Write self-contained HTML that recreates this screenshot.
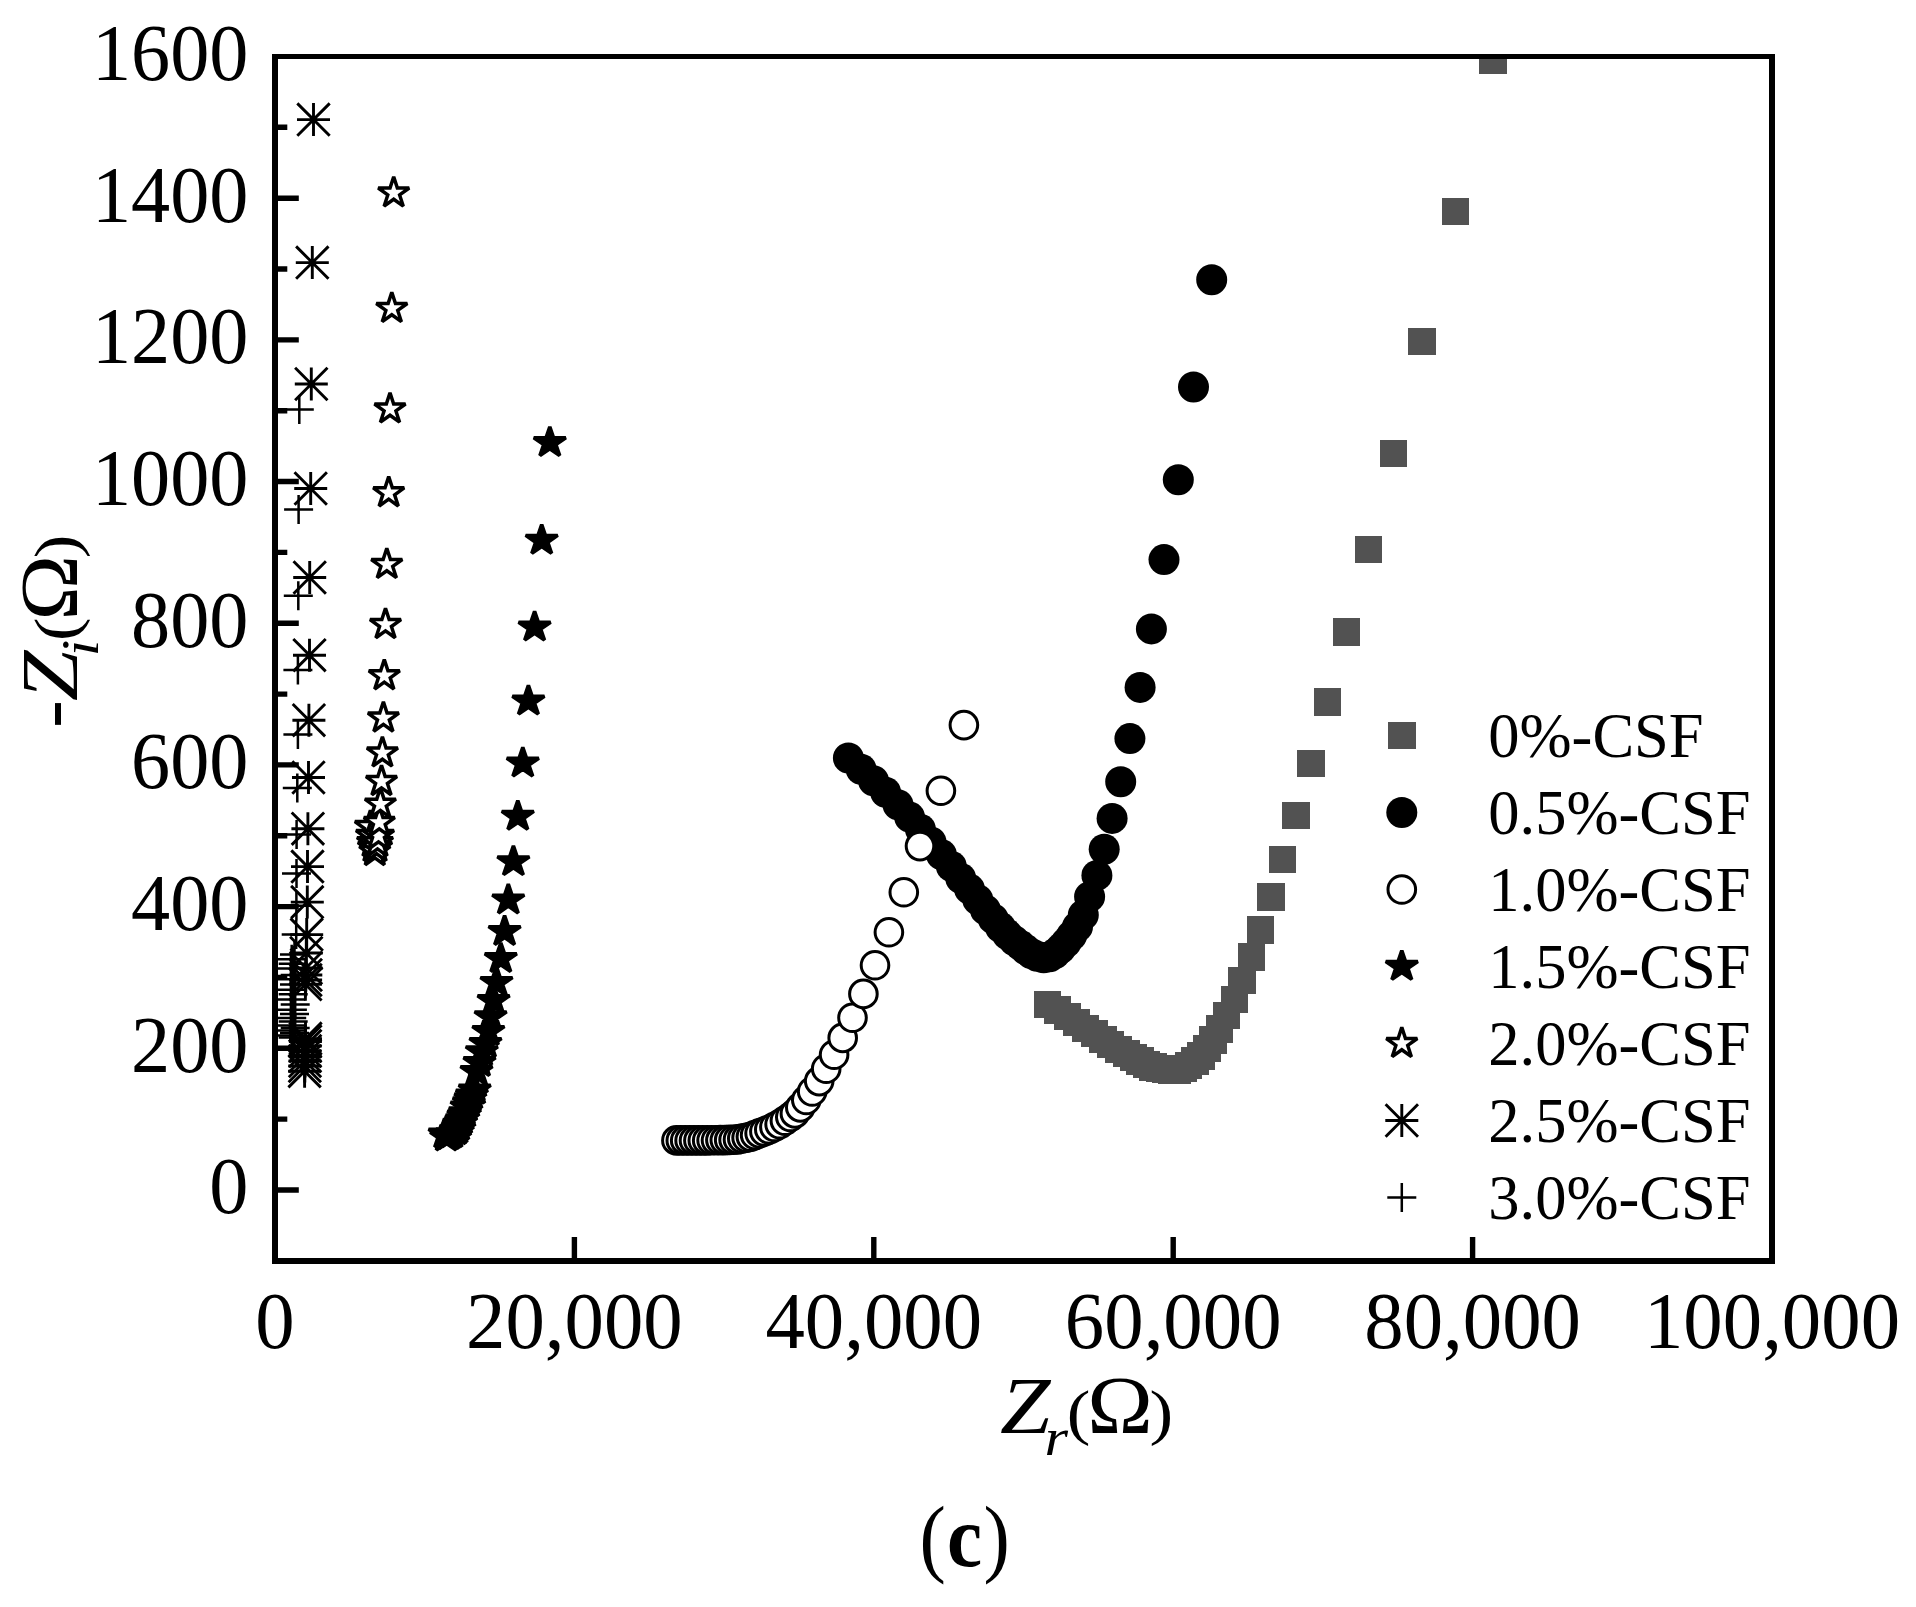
<!DOCTYPE html>
<html lang="en"><head><meta charset="utf-8"><title>Nyquist plot (c)</title>
<style>html,body{margin:0;padding:0;background:#fff}svg{display:block}text{font-family:"Liberation Serif","Times New Roman",serif;fill:#000}.t{font-size:78px}.l{font-size:62.5px}.i{font-style:italic}</style></head><body>
<svg width="1916" height="1607" viewBox="0 0 1916 1607">
<rect width="1916" height="1607" fill="#fff"/>
<defs>
<clipPath id="cp"><rect x="275.0" y="56.5" width="1497.0" height="1204.3"/></clipPath>
<rect id="sq" x="-13.8" y="-13.8" width="27.6" height="27.6" fill="#525252" shape-rendering="crispEdges"/>
<circle id="fc" r="15.5" fill="#000"/>
<circle id="oc" r="13.8" fill="#fff" stroke="#000" stroke-width="3"/>
<path id="fs" d="M0.00 -16.40L3.68 -5.07L15.60 -5.07L5.96 1.94L9.64 13.27L0.00 6.26L-9.64 13.27L-5.96 1.94L-15.60 -5.07L-3.68 -5.07Z" transform="scale(1.025 0.975)" fill="#000" stroke="#000" stroke-width="3.5" stroke-linejoin="miter" stroke-miterlimit="2.5"/>
<path id="os" d="M0.00 -16.30L3.66 -5.04L15.50 -5.04L5.92 1.92L9.58 13.19L0.00 6.23L-9.58 13.19L-5.92 1.92L-15.50 -5.04L-3.66 -5.04Z" fill="#fff" stroke="#000" stroke-width="3.5" stroke-linejoin="miter" stroke-miterlimit="2.5"/>
<path id="as" d="M-16.5 0H16.5M0 -16.5V16.5M-16.2 -16.2L16.2 16.2M-16.2 16.2L16.2 -16.2" fill="none" stroke="#000" stroke-width="2.9"/>
<path id="pl" d="M-14.5 0H14.5M0 -14.5V14.5" fill="none" stroke="#000" stroke-width="2.5"/>
</defs>
<g clip-path="url(#cp)">
<g><use href="#sq" x="1047.3" y="1004.5"/><use href="#sq" x="1057.5" y="1010.3"/><use href="#sq" x="1067.4" y="1016.6"/><use href="#sq" x="1076.5" y="1022.4"/><use href="#sq" x="1085.4" y="1028.3"/><use href="#sq" x="1094.4" y="1033.6"/><use href="#sq" x="1102.9" y="1039.4"/><use href="#sq" x="1110.5" y="1044.4"/><use href="#sq" x="1118.5" y="1049.3"/><use href="#sq" x="1126.3" y="1053.5"/><use href="#sq" x="1133.4" y="1057.3"/><use href="#sq" x="1140.1" y="1061.1"/><use href="#sq" x="1146.3" y="1064.5"/><use href="#sq" x="1153.1" y="1066.8"/><use href="#sq" x="1159.6" y="1068.6"/><use href="#sq" x="1165.8" y="1069.5"/><use href="#sq" x="1171.9" y="1070.2"/><use href="#sq" x="1177.7" y="1069.9"/><use href="#sq" x="1183.5" y="1068.3"/><use href="#sq" x="1188.3" y="1065.7"/><use href="#sq" x="1194.8" y="1061.1"/><use href="#sq" x="1200.8" y="1056.1"/><use href="#sq" x="1207.0" y="1048.5"/><use href="#sq" x="1213.2" y="1040.1"/><use href="#sq" x="1219.5" y="1028.9"/><use href="#sq" x="1226.5" y="1015.4"/><use href="#sq" x="1234.5" y="999.5"/><use href="#sq" x="1242.1" y="980.6"/><use href="#sq" x="1251.4" y="957.2"/><use href="#sq" x="1260.6" y="929.9"/><use href="#sq" x="1271.1" y="897.3"/><use href="#sq" x="1282.5" y="859.5"/><use href="#sq" x="1296.0" y="815.5"/><use href="#sq" x="1311.0" y="763.4"/><use href="#sq" x="1327.5" y="702.2"/><use href="#sq" x="1346.6" y="631.9"/><use href="#sq" x="1368.4" y="549.4"/><use href="#sq" x="1393.5" y="453.4"/><use href="#sq" x="1422.0" y="341.4"/><use href="#sq" x="1455.5" y="211.3"/><use href="#sq" x="1493.0" y="60.1"/></g>
<g><use href="#fc" x="848.4" y="758.0"/><use href="#fc" x="861.1" y="769.2"/><use href="#fc" x="873.5" y="780.8"/><use href="#fc" x="885.6" y="792.2"/><use href="#fc" x="898.0" y="804.7"/><use href="#fc" x="909.6" y="817.1"/><use href="#fc" x="920.4" y="829.3"/><use href="#fc" x="931.0" y="842.0"/><use href="#fc" x="941.3" y="854.5"/><use href="#fc" x="951.3" y="866.3"/><use href="#fc" x="960.7" y="878.3"/><use href="#fc" x="969.5" y="889.1"/><use href="#fc" x="977.8" y="899.7"/><use href="#fc" x="985.5" y="909.9"/><use href="#fc" x="993.3" y="918.9"/><use href="#fc" x="1000.4" y="927.2"/><use href="#fc" x="1007.4" y="934.6"/><use href="#fc" x="1014.2" y="940.6"/><use href="#fc" x="1020.7" y="945.6"/><use href="#fc" x="1025.7" y="949.6"/><use href="#fc" x="1031.2" y="953.5"/><use href="#fc" x="1037.2" y="956.3"/><use href="#fc" x="1043.7" y="957.7"/><use href="#fc" x="1049.6" y="956.7"/><use href="#fc" x="1055.1" y="953.5"/><use href="#fc" x="1060.6" y="948.6"/><use href="#fc" x="1066.1" y="942.6"/><use href="#fc" x="1071.6" y="935.6"/><use href="#fc" x="1077.5" y="926.7"/><use href="#fc" x="1083.3" y="915.0"/><use href="#fc" x="1089.6" y="896.7"/><use href="#fc" x="1096.9" y="875.4"/><use href="#fc" x="1104.2" y="849.3"/><use href="#fc" x="1112.1" y="818.4"/><use href="#fc" x="1120.7" y="781.8"/><use href="#fc" x="1129.9" y="738.6"/><use href="#fc" x="1140.1" y="687.4"/><use href="#fc" x="1151.4" y="628.9"/><use href="#fc" x="1164.0" y="559.6"/><use href="#fc" x="1178.3" y="479.8"/><use href="#fc" x="1193.5" y="387.0"/><use href="#fc" x="1211.7" y="279.7"/></g>
<g><use href="#oc" x="676.4" y="1140.4"/><use href="#oc" x="680.8" y="1140.4"/><use href="#oc" x="685.2" y="1140.4"/><use href="#oc" x="689.6" y="1140.4"/><use href="#oc" x="694.0" y="1140.4"/><use href="#oc" x="698.4" y="1140.4"/><use href="#oc" x="702.8" y="1140.4"/><use href="#oc" x="707.2" y="1140.4"/><use href="#oc" x="711.6" y="1140.3"/><use href="#oc" x="716.0" y="1140.2"/><use href="#oc" x="720.4" y="1140.1"/><use href="#oc" x="724.8" y="1140.1"/><use href="#oc" x="729.2" y="1139.9"/><use href="#oc" x="733.6" y="1139.7"/><use href="#oc" x="738.0" y="1139.4"/><use href="#oc" x="742.3" y="1138.5"/><use href="#oc" x="746.6" y="1137.7"/><use href="#oc" x="750.9" y="1136.7"/><use href="#oc" x="755.1" y="1135.0"/><use href="#oc" x="759.6" y="1133.3"/><use href="#oc" x="764.4" y="1131.5"/><use href="#oc" x="769.3" y="1129.5"/><use href="#oc" x="774.4" y="1127.0"/><use href="#oc" x="779.6" y="1124.3"/><use href="#oc" x="784.9" y="1120.8"/><use href="#oc" x="790.3" y="1117.0"/><use href="#oc" x="794.9" y="1113.4"/><use href="#oc" x="800.3" y="1107.4"/><use href="#oc" x="806.3" y="1100.0"/><use href="#oc" x="812.2" y="1091.5"/><use href="#oc" x="819.2" y="1081.1"/><use href="#oc" x="826.2" y="1068.8"/><use href="#oc" x="834.1" y="1054.8"/><use href="#oc" x="842.7" y="1037.9"/><use href="#oc" x="852.5" y="1017.8"/><use href="#oc" x="863.4" y="993.9"/><use href="#oc" x="875.0" y="965.2"/><use href="#oc" x="888.9" y="932.2"/><use href="#oc" x="903.8" y="892.3"/><use href="#oc" x="920.0" y="846.1"/><use href="#oc" x="940.9" y="790.8"/><use href="#oc" x="963.9" y="725.1"/></g>
<g><use href="#fs" x="444.6" y="1134.2"/><use href="#fs" x="446.2" y="1137.2"/><use href="#fs" x="449.0" y="1135.6"/><use href="#fs" x="452.0" y="1133.9"/><use href="#fs" x="455.5" y="1130.9"/><use href="#fs" x="457.1" y="1129.4"/><use href="#fs" x="458.8" y="1126.4"/><use href="#fs" x="460.7" y="1122.2"/><use href="#fs" x="461.7" y="1119.8"/><use href="#fs" x="463.3" y="1116.1"/><use href="#fs" x="464.9" y="1113.0"/><use href="#fs" x="466.6" y="1107.1"/><use href="#fs" x="468.8" y="1103.0"/><use href="#fs" x="470.4" y="1099.0"/><use href="#fs" x="471.9" y="1095.2"/><use href="#fs" x="474.7" y="1090.2"/><use href="#fs" x="476.5" y="1071.6"/><use href="#fs" x="479.5" y="1062.7"/><use href="#fs" x="481.8" y="1051.8"/><use href="#fs" x="485.5" y="1043.6"/><use href="#fs" x="488.4" y="1031.6"/><use href="#fs" x="490.6" y="1016.8"/><use href="#fs" x="493.6" y="1000.7"/><use href="#fs" x="496.5" y="982.6"/><use href="#fs" x="500.8" y="958.7"/><use href="#fs" x="504.6" y="931.6"/><use href="#fs" x="508.3" y="900.1"/><use href="#fs" x="513.4" y="861.8"/><use href="#fs" x="517.8" y="816.4"/><use href="#fs" x="522.8" y="763.2"/><use href="#fs" x="528.4" y="701.2"/><use href="#fs" x="534.6" y="627.2"/><use href="#fs" x="541.7" y="540.4"/><use href="#fs" x="549.8" y="442.7"/></g>
<g><use href="#os" x="370.4" y="826.6"/><use href="#os" x="371.5" y="835.6"/><use href="#os" x="372.5" y="842.7"/><use href="#os" x="373.4" y="847.5"/><use href="#os" x="374.8" y="851.6"/><use href="#os" x="376.6" y="847.5"/><use href="#os" x="377.5" y="842.7"/><use href="#os" x="378.5" y="835.6"/><use href="#os" x="379.3" y="822.6"/><use href="#os" x="380.4" y="804.2"/><use href="#os" x="381.5" y="781.6"/><use href="#os" x="382.4" y="753.0"/><use href="#os" x="383.4" y="718.1"/><use href="#os" x="384.3" y="675.9"/><use href="#os" x="385.5" y="624.6"/><use href="#os" x="386.8" y="564.5"/><use href="#os" x="388.7" y="492.9"/><use href="#os" x="390.0" y="409.0"/><use href="#os" x="391.8" y="308.5"/><use href="#os" x="393.7" y="193.0"/></g>
<g><use href="#as" x="304.6" y="1071.2"/><use href="#as" x="304.8" y="1066.0"/><use href="#as" x="305.0" y="1061.0"/><use href="#as" x="305.1" y="1056.0"/><use href="#as" x="305.2" y="1051.0"/><use href="#as" x="305.3" y="1046.0"/><use href="#as" x="305.4" y="1041.5"/><use href="#as" x="305.5" y="1038.6"/><use href="#as" x="305.4" y="984.3"/><use href="#as" x="305.6" y="980.0"/><use href="#as" x="305.8" y="975.0"/><use href="#as" x="306.0" y="968.0"/><use href="#as" x="306.3" y="953.0"/><use href="#as" x="306.7" y="934.6"/><use href="#as" x="307.3" y="902.1"/><use href="#as" x="307.5" y="866.6"/><use href="#as" x="307.9" y="828.7"/><use href="#as" x="308.5" y="777.5"/><use href="#as" x="308.9" y="720.2"/><use href="#as" x="309.5" y="655.2"/><use href="#as" x="309.7" y="577.5"/><use href="#as" x="310.7" y="488.5"/><use href="#as" x="311.3" y="384.0"/><use href="#as" x="312.3" y="262.6"/><use href="#as" x="313.5" y="119.6"/></g>
<g><use href="#pl" x="293.2" y="1037.4"/><use href="#pl" x="291.7" y="1035.5"/><use href="#pl" x="294.5" y="1033.0"/><use href="#pl" x="292.4" y="1030.5"/><use href="#pl" x="295.2" y="1028.0"/><use href="#pl" x="290.9" y="1025.5"/><use href="#pl" x="293.2" y="1021.5"/><use href="#pl" x="291.7" y="1018.0"/><use href="#pl" x="294.5" y="1013.9"/><use href="#pl" x="292.4" y="1009.8"/><use href="#pl" x="295.2" y="1004.5"/><use href="#pl" x="290.9" y="999.5"/><use href="#pl" x="293.2" y="994.3"/><use href="#pl" x="291.7" y="989.7"/><use href="#pl" x="294.5" y="984.6"/><use href="#pl" x="292.4" y="979.2"/><use href="#pl" x="295.2" y="974.9"/><use href="#pl" x="290.9" y="968.5"/><use href="#pl" x="293.2" y="963.7"/><use href="#pl" x="291.7" y="959.2"/><use href="#pl" x="294.5" y="954.6"/><use href="#pl" x="296.2" y="934.4"/><use href="#pl" x="296.4" y="905.8"/><use href="#pl" x="296.5" y="873.4"/><use href="#pl" x="296.6" y="834.4"/><use href="#pl" x="297.3" y="788.1"/><use href="#pl" x="297.9" y="734.5"/><use href="#pl" x="297.9" y="670.1"/><use href="#pl" x="298.3" y="595.8"/><use href="#pl" x="298.6" y="509.4"/><use href="#pl" x="299.3" y="409.5"/></g>
</g>
<path d="M276.8 1190.0H298.8M276.8 1119.1H287.3M276.8 1048.3H298.8M276.8 977.4H287.3M276.8 906.6H298.8M276.8 835.8H287.3M276.8 764.9H298.8M276.8 694.1H287.3M276.8 623.2H298.8M276.8 552.4H287.3M276.8 481.5H298.8M276.8 410.7H287.3M276.8 339.9H298.8M276.8 269.0H287.3M276.8 198.2H298.8M276.8 127.3H287.3M574.4 1259.0V1237.0M873.8 1259.0V1237.0M1173.2 1259.0V1237.0M1472.6 1259.0V1237.0" fill="none" stroke="#000" stroke-width="5.4"/>
<g fill="#000" shape-rendering="crispEdges"><rect x="272" y="54" width="1503" height="5"/><rect x="272" y="1258" width="1503" height="5.6"/><rect x="272" y="54" width="6" height="1209.6"/><rect x="1769" y="54" width="6" height="1209.6"/></g>
<text font-size="80" transform="translate(248.4 1213.3) scale(0.978 1)" text-anchor="end">0</text>
<text font-size="80" transform="translate(248.4 1071.6) scale(0.978 1)" text-anchor="end">200</text>
<text font-size="80" transform="translate(248.4 929.9) scale(0.978 1)" text-anchor="end">400</text>
<text font-size="80" transform="translate(248.4 788.2) scale(0.978 1)" text-anchor="end">600</text>
<text font-size="80" transform="translate(248.4 646.5) scale(0.978 1)" text-anchor="end">800</text>
<text font-size="80" transform="translate(248.4 504.8) scale(0.978 1)" text-anchor="end">1000</text>
<text font-size="80" transform="translate(248.4 363.2) scale(0.978 1)" text-anchor="end">1200</text>
<text font-size="80" transform="translate(248.4 221.5) scale(0.978 1)" text-anchor="end">1400</text>
<text font-size="80" transform="translate(248.4 79.8) scale(0.978 1)" text-anchor="end">1600</text>
<text font-size="80" transform="translate(275.0 1347.8) scale(0.985 1)" text-anchor="middle">0</text>
<text font-size="80" transform="translate(574.4 1347.8) scale(0.985 1)" text-anchor="middle">20,000</text>
<text font-size="80" transform="translate(873.8 1347.8) scale(0.985 1)" text-anchor="middle">40,000</text>
<text font-size="80" transform="translate(1173.2 1347.8) scale(0.985 1)" text-anchor="middle">60,000</text>
<text font-size="80" transform="translate(1472.6 1347.8) scale(0.985 1)" text-anchor="middle">80,000</text>
<text font-size="80" transform="translate(1772.0 1347.8) scale(0.985 1)" text-anchor="middle">100,000</text>
<g>
<text class="i" font-size="80.0" transform="translate(999.9 1432.9) scale(1.133 1)">Z</text>
<text class="i" font-size="53.0" transform="translate(1044.4 1455.0) scale(1.140 1)">r</text>
<text font-size="62.2" transform="translate(1066.8 1432.9) scale(1.140 1)">(</text>
<text font-size="83.3" transform="translate(1087.2 1432.9) scale(1.060 1)">Ω</text>
<text font-size="62.2" transform="translate(1149.5 1432.9) scale(1.140 1)">)</text>
</g>
<g>
<text font-size="80.0" transform="translate(77.2 727.9) rotate(-90) scale(1.050 1)">-</text>
<text class="i" font-size="80.0" transform="translate(77.2 701.0) rotate(-90) scale(1.133 1)">Z</text>
<text class="i" font-size="52.0" transform="translate(98.1 656.3) rotate(-90) scale(1.140 1)">i</text>
<text font-size="62.2" transform="translate(77.0 641.1) rotate(-90) scale(1.140 1)">(</text>
<text font-size="83.3" transform="translate(77.2 620.5) rotate(-90) scale(1.060 1)">Ω</text>
<text font-size="62.2" transform="translate(77.0 558.2) rotate(-90) scale(1.140 1)">)</text>
</g>
<g>
<text font-size="86.0" transform="translate(919.4 1565.8) scale(0.920 1)">(</text>
<text font-size="86" font-weight="bold" transform="translate(947.1 1565.8) scale(0.92 1)">c</text>
<text font-size="86.0" transform="translate(983.5 1565.8) scale(0.920 1)">)</text>
</g>
<use href="#sq" x="1401.8" y="735.5"/>
<text class="l" x="1488.3" y="756.5">0%-CSF</text>
<use href="#fc" x="1401.8" y="812.5"/>
<text class="l" x="1488.3" y="833.5">0.5%-CSF</text>
<use href="#oc" x="1401.8" y="889.5"/>
<text class="l" x="1488.3" y="910.5">1.0%-CSF</text>
<use href="#fs" x="1401.8" y="966.5"/>
<text class="l" x="1488.3" y="987.5">1.5%-CSF</text>
<use href="#os" x="1401.8" y="1043.5"/>
<text class="l" x="1488.3" y="1064.5">2.0%-CSF</text>
<use href="#as" x="1401.8" y="1120.5"/>
<text class="l" x="1488.3" y="1141.5">2.5%-CSF</text>
<use href="#pl" x="1401.8" y="1197.5"/>
<text class="l" x="1488.3" y="1218.5">3.0%-CSF</text>
</svg></body></html>
